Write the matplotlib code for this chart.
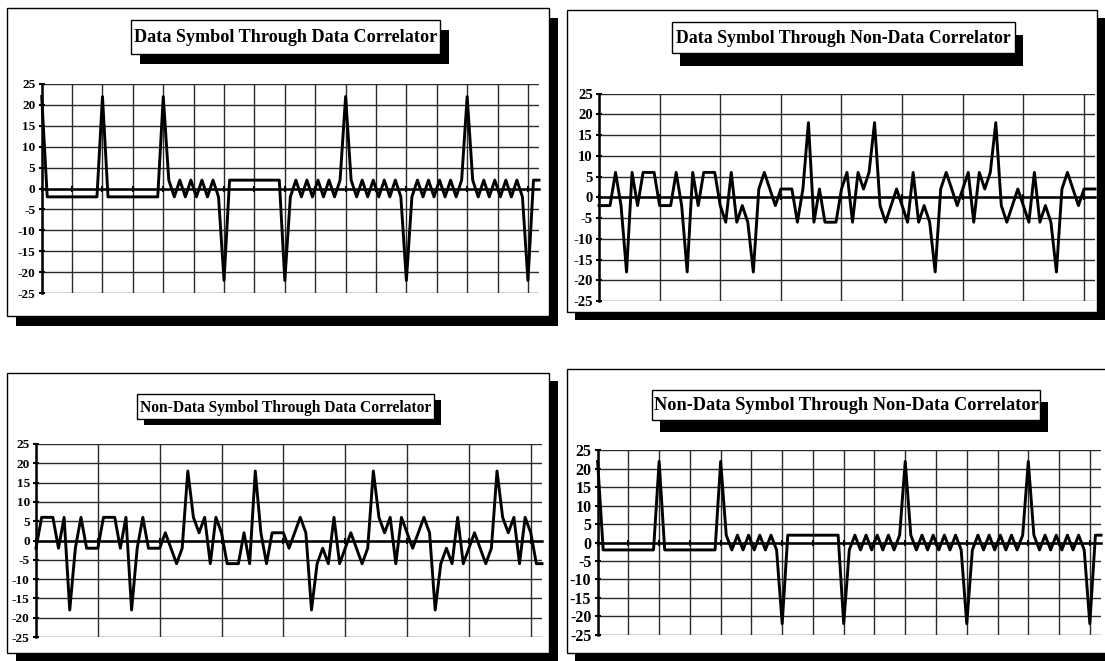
import matplotlib
matplotlib.use("Agg")
import matplotlib.pyplot as plt
from matplotlib.patches import Rectangle

# ---------------- data ----------------
titles = [
    "Data Symbol Through Data Correlator",
    "Data Symbol Through Non-Data Correlator",
    "Non-Data Symbol Through Data Correlator",
    "Non-Data Symbol Through Non-Data Correlator",
]

y_ticks = [-25, -20, -15, -10, -5, 0, 5, 10, 15, 20, 25]

data_thru_data = [
    22, -2, -2, -2, -2, -2, -2, -2, -2, -2, -2,
    22, -2, -2, -2, -2, -2, -2, -2, -2, -2, -2,
    22, 2, -2, 2, -2, 2, -2, 2, -2, 2, -2,
    -22, 2, 2, 2, 2, 2, 2, 2, 2, 2, 2,
    -22, -2, 2, -2, 2, -2, 2, -2, 2, -2, 2,
    22, 2, -2, 2, -2, 2, -2, 2, -2, 2, -2,
    -22, -2, 2, -2, 2, -2, 2, -2, 2, -2, 2,
    22, 2, -2, 2, -2, 2, -2, 2, -2, 2, -2,
    -22, 2, 2,
]

data_thru_nondata = [
    -2, -2, -2, 6, -2, -18, 6, -2, 6, 6, 6,
    -2, -2, -2, 6, -2, -18, 6, -2, 6, 6, 6,
    -2, -6, 6, -6, -2, -6, -18, 2, 6, 2, -2,
    2, 2, 2, -6, 2, 18, -6, 2, -6, -6, -6,
    2, 6, -6, 6, 2, 6, 18, -2, -6, -2, 2,
    -2, -6, 6, -6, -2, -6, -18, 2, 6, 2, -2,
    2, 6, -6, 6, 2, 6, 18, -2, -6, -2, 2,
    -2, -6, 6, -6, -2, -6, -18, 2, 6, 2, -2,
    2, 2, 2,
]

nondata_thru_data = [
    -2, 6, 6, 6, -2, 6, -18, -2, 6, -2, -2,
    -2, 6, 6, 6, -2, 6, -18, -2, 6, -2, -2,
    -2, 2, -2, -6, -2, 18, 6, 2, 6, -6, 6,
    2, -6, -6, -6, 2, -6, 18, 2, -6, 2, 2,
    2, -2, 2, 6, 2, -18, -6, -2, -6, 6, -6,
    -2, 2, -2, -6, -2, 18, 6, 2, 6, -6, 6,
    2, -2, 2, 6, 2, -18, -6, -2, -6, 6, -6,
    -2, 2, -2, -6, -2, 18, 6, 2, 6, -6, 6,
    2, -6, -6,
]

nondata_thru_nondata = [
    22, -2, -2, -2, -2, -2, -2, -2, -2, -2, -2,
    22, -2, -2, -2, -2, -2, -2, -2, -2, -2, -2,
    22, 2, -2, 2, -2, 2, -2, 2, -2, 2, -2,
    -22, 2, 2, 2, 2, 2, 2, 2, 2, 2, 2,
    -22, -2, 2, -2, 2, -2, 2, -2, 2, -2, 2,
    22, 2, -2, 2, -2, 2, -2, 2, -2, 2, -2,
    -22, -2, 2, -2, 2, -2, 2, -2, 2, -2, 2,
    22, 2, -2, 2, -2, 2, -2, 2, -2, 2, -2,
    -22, 2, 2,
]

series = [data_thru_data, data_thru_nondata, nondata_thru_data, nondata_thru_nondata]

# ---------------- layout (pixels) ----------------
W, H = 1105, 661
FONT = "Liberation Serif"

# outer panel boxes: (x0, y0, x1, y1)
boxes = [(7, 8, 549, 316), (567, 10, 1097, 312), (7, 373, 549, 653), (567, 369, 1110, 653)]
box_shadow = [(9, 10), (8, 8), (9, 8), (8, 8)]
# title boxes
tboxes = [(131, 20, 440, 54), (672, 22, 1015, 53), (137, 394, 434, 419), (652, 390, 1040, 420)]
tshadow = [(9, 10), (8, 13), (7, 6), (8, 12)]
twidth = [302, 335, 293, 384]
# plot areas: (x_left, y_top, x_right, y_bottom)
plots = [(41.7, 84, 539, 293), (599, 93.6, 1095, 301), (36, 444, 542, 637), (597.6, 450.4, 1101, 634.7)]
grid_step = [5.5, 11, 11, 5.5]
label_size = [9.5, 10.5, 9.5, 11.5]

fig = plt.figure(figsize=(W / 100, H / 100), dpi=100)
fig.patch.set_facecolor("white")
bg = fig.add_axes([0, 0, 1, 1])
bg.set_xlim(0, W)
bg.set_ylim(H, 0)
bg.axis("off")


def rect(x0, y0, x1, y1, **kw):
    bg.add_patch(Rectangle((x0, y0), x1 - x0, y1 - y0, **kw))


for (x0, y0, x1, y1), (dx, dy) in zip(boxes, box_shadow):
    rect(x0 + dx, y0 + dy, x1 + dx, y1 + dy, facecolor="black", edgecolor="none", zorder=1)
    rect(x0, y0, x1, y1, facecolor="white", edgecolor="black", lw=1.0, zorder=2)

renderer = fig.canvas.get_renderer()
for (x0, y0, x1, y1), (dx, dy), title, tw in zip(tboxes, tshadow, titles, twidth):
    rect(x0 + dx, y0 + dy, x1 + dx, y1 + dy, facecolor="black", edgecolor="none", zorder=3)
    rect(x0, y0, x1, y1, facecolor="white", edgecolor="black", lw=1.0, zorder=4)
    t = bg.text((x0 + x1) / 2, (y0 + y1) / 2 + 1, title, ha="center", va="center",
                fontfamily=FONT, fontweight="bold", fontsize=10, zorder=5)
    w = t.get_window_extent(renderer).width
    t.set_fontsize(10 * tw / w)

for vals, (xl, yt, xr, yb), step, ls in zip(series, plots, grid_step, label_size):
    ax = fig.add_axes([xl / W, 1 - yb / H, (xr - xl) / W, (yb - yt) / H])
    ax.set_facecolor("none")
    xs = list(range(len(vals)))
    ax.plot(xs, vals, color="black", lw=2.1, zorder=5, clip_on=False)
    ax.set_xlim(0, len(vals) - 1)
    ax.set_ylim(-25, 25)
    ax.set_yticks(y_ticks)
    ax.set_yticklabels([str(v) for v in y_ticks], fontfamily=FONT, fontweight="bold", fontsize=ls)
    vg = []
    k = 0
    while k * step <= len(vals) - 1:
        vg.append(k * step)
        k += 1
    ax.set_xticks(vg)
    ax.set_xticklabels([])
    ax.grid(True, color="#2a2a2a", lw=1.0, zorder=1)
    for s in ("top", "right"):
        ax.spines[s].set_visible(False)
    ax.spines["left"].set_linewidth(1.8)
    ax.spines["bottom"].set_position(("data", 0))
    ax.spines["bottom"].set_linewidth(1.8)
    ax.spines["bottom"].set_zorder(4)
    ax.tick_params(axis="y", direction="inout", length=5, width=1.5, pad=2)
    ax.tick_params(axis="x", direction="inout", length=4, width=1.5)

fig.savefig("out.png", dpi=100, facecolor="white")
